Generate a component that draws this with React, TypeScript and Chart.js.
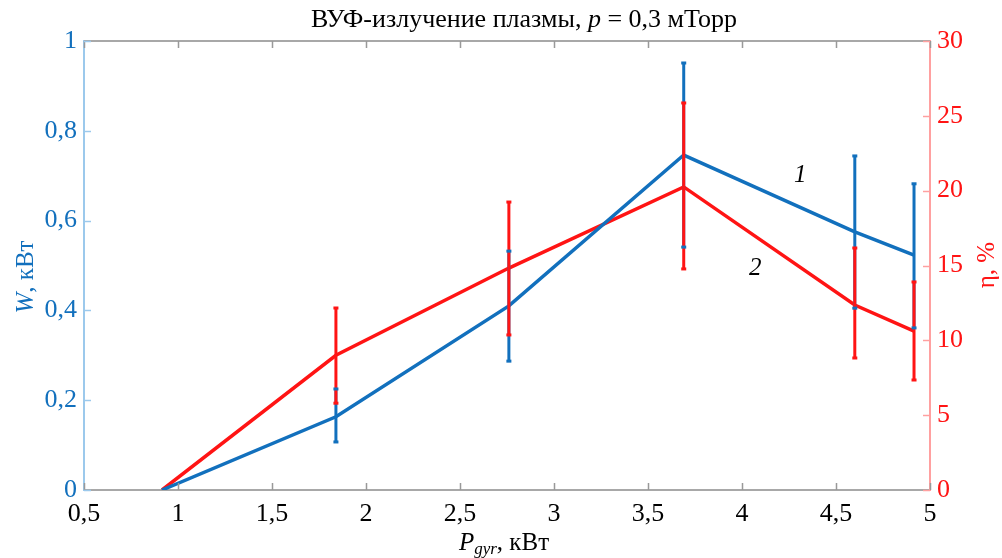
import React, { useEffect, useRef } from 'react';
import { Chart, registerables } from 'chart.js';
Chart.register(...registerables);

// ---- data ----
const powerKW = [0.915, 1.84, 2.76, 3.69, 4.6, 4.915];
const wValues = [0, 0.163, 0.41, 0.746, 0.575, 0.523];
const wLow = [null, 0.107, 0.287, 0.541, 0.405, 0.361];
const wHigh = [null, 0.225, 0.532, 0.951, 0.744, 0.682];
const etaValues = [0, 9.0, 14.83, 20.25, 12.36, 10.62];
const etaLow = [null, 5.8, 10.36, 14.77, 8.82, 7.35];
const etaHigh = [null, 12.16, 19.24, 25.86, 16.17, 13.9];
const xTickValues = [0.5, 1, 1.5, 2, 2.5, 3, 3.5, 4, 4.5, 5];
const wTickValues = [0, 0.2, 0.4, 0.6, 0.8, 1];
const etaTickValues = [0, 5, 10, 15, 20, 25, 30];
const curveLabels = [
  { text: '1', x: 4.31, y: 0.70 },
  { text: '2', x: 4.07, y: 0.494 },
];

const BLUE = '#1270bd';
const RED = '#ff1414';
const FONT = "'Liberation Serif', 'Times New Roman', serif";

type Seg = { t: string; italic?: boolean; size?: number; dy?: number };

function drawRich(ctx: CanvasRenderingContext2D, segs: Seg[], cx: number, baseY: number, color: string, baseSize: number) {
  const fontOf = (s: Seg) => `${s.italic ? 'italic ' : ''}${s.size ?? baseSize}px ${FONT}`;
  let total = 0;
  const widths = segs.map((s) => {
    ctx.font = fontOf(s);
    const w = ctx.measureText(s.t).width;
    total += w;
    return w;
  });
  let x = cx - total / 2;
  ctx.fillStyle = color;
  ctx.textAlign = 'left';
  ctx.textBaseline = 'alphabetic';
  segs.forEach((s, i) => {
    ctx.font = fontOf(s);
    ctx.fillText(s.t, x, baseY + (s.dy ?? 0));
    x += widths[i];
  });
}

const decorPlugin = {
  id: 'decor',
  afterDatasetsDraw(chart: any) {
    const { ctx, chartArea, scales } = chart;
    const xs = scales.x, yl = scales.y, yr = scales.y2;
    ctx.save();
    // error bars
    const bars = (low: any[], high: any[], scale: any, color: string) => {
      ctx.strokeStyle = color;
      ctx.lineWidth = 3;
      powerKW.forEach((p, i) => {
        if (low[i] == null) return;
        const px = xs.getPixelForValue(p);
        ctx.beginPath();
        ctx.moveTo(px, scale.getPixelForValue(low[i]));
        ctx.lineTo(px, scale.getPixelForValue(high[i]));
        ctx.stroke();
      });
    };
    const caps = (low: any[], high: any[], scale: any, color: string) => {
      ctx.fillStyle = color;
      powerKW.forEach((p, i) => {
        if (low[i] == null) return;
        const px = xs.getPixelForValue(p);
        [low[i], high[i]].forEach((v) => {
          const py = scale.getPixelForValue(v);
          ctx.fillRect(px - 2.5, py - 1.5, 5, 3);
        });
      });
    };
    bars(wLow, wHigh, yl, BLUE);
    bars(etaLow, etaHigh, yr, RED);
    caps(wLow, wHigh, yl, BLUE);
    caps(etaLow, etaHigh, yr, RED);

    // top border
    ctx.strokeStyle = '#a8a8a8';
    ctx.lineWidth = 2;
    ctx.beginPath();
    ctx.moveTo(chartArea.left, chartArea.top);
    ctx.lineTo(chartArea.right, chartArea.top);
    ctx.stroke();

    // inward ticks
    ctx.lineWidth = 1.5;
    ctx.strokeStyle = '#999999';
    xTickValues.forEach((v) => {
      const px = Math.round(xs.getPixelForValue(v)) + 0.5;
      ctx.beginPath();
      ctx.moveTo(px, chartArea.bottom);
      ctx.lineTo(px, chartArea.bottom - 7);
      ctx.moveTo(px, chartArea.top);
      ctx.lineTo(px, chartArea.top + 7);
      ctx.stroke();
    });
    ctx.strokeStyle = '#9cc9ec';
    wTickValues.forEach((v) => {
      const py = Math.round(yl.getPixelForValue(v)) + 0.5;
      ctx.beginPath();
      ctx.moveTo(chartArea.left, py);
      ctx.lineTo(chartArea.left + 7, py);
      ctx.stroke();
    });
    ctx.strokeStyle = '#ffa0a0';
    etaTickValues.forEach((v) => {
      const py = Math.round(yr.getPixelForValue(v)) + 0.5;
      ctx.beginPath();
      ctx.moveTo(chartArea.right, py);
      ctx.lineTo(chartArea.right - 7, py);
      ctx.stroke();
    });

    // curve labels
    curveLabels.forEach((l) => {
      ctx.font = `italic 25px ${FONT}`;
      ctx.fillStyle = '#000';
      ctx.textAlign = 'center';
      ctx.textBaseline = 'middle';
      ctx.fillText(l.text, xs.getPixelForValue(l.x), yl.getPixelForValue(l.y));
    });

    // title
    drawRich(ctx, [
      { t: 'ВУФ-излучение плазмы, ' },
      { t: 'p', italic: true },
      { t: ' = 0,3 мТорр' },
    ], 524, 27, '#000', 26);

    // x axis title
    drawRich(ctx, [
      { t: 'P', italic: true },
      { t: 'gyr', italic: true, size: 17, dy: 4 },
      { t: ', кВт' },
    ], 504, 550, '#000', 25);

    // left y title
    ctx.save();
    ctx.translate(33, 277);
    ctx.rotate(-Math.PI / 2);
    drawRich(ctx, [{ t: 'W', italic: true }, { t: ', кВт' }], 0, 0, BLUE, 25);
    ctx.restore();

    // right y title
    ctx.save();
    ctx.translate(994, 265);
    ctx.rotate(-Math.PI / 2);
    drawRich(ctx, [{ t: 'η, %' }], 0, 0, RED, 25);
    ctx.restore();

    ctx.restore();
  },
};

const fmt = (v: any) => String(v).replace('.', ',');

export default function App() {
  const ref = useRef<HTMLCanvasElement>(null);
  useEffect(() => {
    document.body.style.margin = '0';
    const chart = new Chart(ref.current!, {
      type: 'line',
      data: {
        datasets: [
          {
            label: 'W',
            data: powerKW.map((x, i) => ({ x, y: wValues[i] })),
            borderColor: BLUE,
            borderWidth: 3.5,
            pointRadius: 0,
            tension: 0,
            yAxisID: 'y',
          },
          {
            label: 'η',
            data: powerKW.map((x, i) => ({ x, y: etaValues[i] })),
            borderColor: RED,
            borderWidth: 3.5,
            pointRadius: 0,
            tension: 0,
            yAxisID: 'y2',
          },
        ],
      },
      options: {
        responsive: false,
        animation: false,
        devicePixelRatio: 1,
        layout: { padding: { top: 41, left: 0, right: 0, bottom: 0 }, autoPadding: false },
        plugins: { legend: { display: false }, tooltip: { enabled: false }, title: { display: false } },
        scales: {
          x: {
            type: 'linear',
            min: 0.5,
            max: 5,
            afterFit: (s: any) => { s.height = 68; },
            afterBuildTicks: (s: any) => { s.ticks = xTickValues.map((v) => ({ value: v })); },
            grid: { drawOnChartArea: false, drawTicks: false },
            border: { display: true, color: '#a8a8a8', width: 2 },
            ticks: { color: '#000', padding: 9, maxRotation: 0, font: { family: FONT, size: 26 }, callback: fmt },
          },
          y: {
            type: 'linear',
            position: 'left',
            min: 0,
            max: 1,
            afterFit: (s: any) => { s.width = 84; },
            afterBuildTicks: (s: any) => { s.ticks = wTickValues.map((v) => ({ value: v })); },
            grid: { drawOnChartArea: false, drawTicks: false },
            border: { display: true, color: '#9cc9ec', width: 2 },
            ticks: { color: BLUE, padding: 7, font: { family: FONT, size: 26 }, callback: fmt },
          },
          y2: {
            type: 'linear',
            position: 'right',
            min: 0,
            max: 30,
            afterFit: (s: any) => { s.width = 72; },
            afterBuildTicks: (s: any) => { s.ticks = etaTickValues.map((v) => ({ value: v })); },
            grid: { drawOnChartArea: false, drawTicks: false },
            border: { display: true, color: '#ffa0a0', width: 2 },
            ticks: { color: RED, padding: 7, font: { family: FONT, size: 26 }, callback: fmt },
          },
        },
      },
      plugins: [decorPlugin],
    } as any);
    return () => chart.destroy();
  }, []);
  return (
    <div style={{ position: 'absolute', left: 0, top: 0, width: 1002, height: 558 }}>
      <canvas ref={ref} width={1002} height={558} />
    </div>
  );
}
